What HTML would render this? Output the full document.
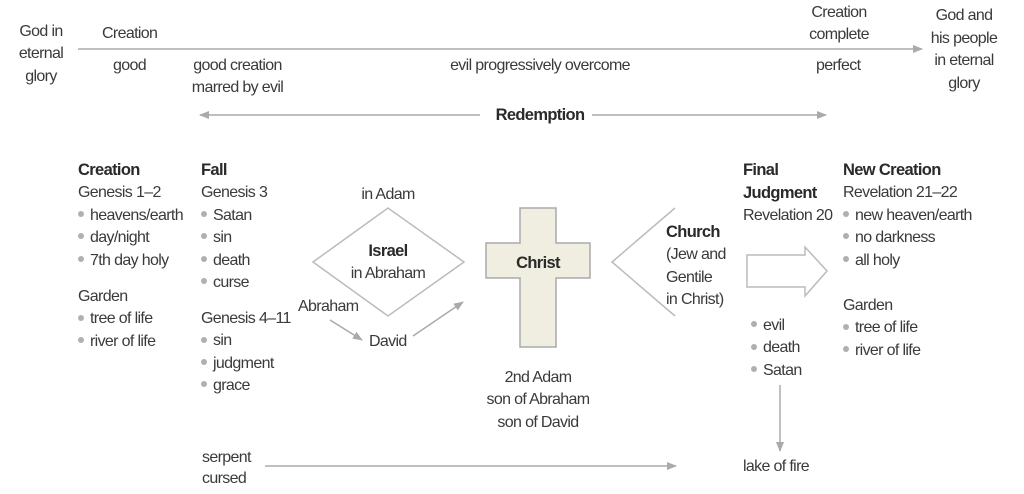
<!DOCTYPE html>
<html><head><meta charset="utf-8"><style>
body{margin:0;width:1024px;height:494px;background:#fff;position:relative;overflow:hidden;font-family:"Liberation Sans",sans-serif;font-size:16px;color:#3a3a3a;letter-spacing:-0.65px}
.t{position:absolute;white-space:nowrap;line-height:22.4px}
.c{text-align:center}
b{color:#2a2a2a;font-size:16.5px}
.d{display:inline-block;width:6px;height:6px;border-radius:50%;background:#b0b0b0;margin:0 6px 3px 0;vertical-align:middle}
svg{position:absolute;left:0;top:0}
</style></head><body>
<svg width="1024" height="494">
<defs><marker id="a" viewBox="0 0 10 10" refX="9" refY="5" markerWidth="10" markerHeight="10" markerUnits="userSpaceOnUse" orient="auto-start-reverse"><path d="M0,1L10,5L0,9z" fill="#aaa"/></marker></defs>
<g stroke="#aaa" stroke-width="1.5" fill="none">
<line x1="78" y1="49" x2="922" y2="49" marker-end="url(#a)"/>
<line x1="200" y1="115" x2="480" y2="115" marker-start="url(#a)"/>
<line x1="592" y1="115" x2="826" y2="115" marker-end="url(#a)"/>
<polygon points="313,262 388,208 464,262 388,316" stroke="#bbb"/>
<polyline points="675,208 612,262 675,316" stroke="#bbb"/>
<line x1="330" y1="320" x2="362" y2="340" marker-end="url(#a)"/>
<line x1="413" y1="336" x2="463" y2="302" marker-end="url(#a)"/>
<polygon points="747,255 805,255 805,247 827,271 805,296 805,287 747,287" stroke="#bbb"/>
<line x1="780" y1="385" x2="780" y2="451" marker-end="url(#a)"/>
<line x1="265" y1="466" x2="676" y2="466" marker-end="url(#a)"/>
</g>
<path d="M520,208H556V243H590V278H556V347H520V278H486V243H520Z" fill="#efeee0" stroke="#aaa" stroke-width="1.5"/>
</svg>
<div class="t c" style="left:10px;top:21px;width:62px">God in<br>eternal<br>glory</div>
<div class="t" style="left:102px;top:23px">Creation</div>
<div class="t" style="left:113px;top:55px">good</div>
<div class="t c" style="left:180px;top:55px;width:115px">good creation<br>marred by evil</div>
<div class="t c" style="left:440px;top:55px;width:200px">evil progressively overcome</div>
<div class="t" style="left:816px;top:55px">perfect</div>
<div class="t c" style="left:800px;top:2px;width:78px">Creation<br>complete</div>
<div class="t c" style="left:926px;top:5px;width:76px;line-height:22.5px">God and<br>his people<br>in eternal<br>glory</div>
<div class="t c" style="left:440px;top:104px;width:200px"><b>Redemption</b></div>

<div class="t" style="left:78px;top:159px"><b>Creation</b><br>Genesis 1–2<br><span class="d"></span>heavens/earth<br><span class="d"></span>day/night<br><span class="d"></span>7th day holy</div>
<div class="t" style="left:78px;top:286px">Garden<br><span class="d"></span>tree of life<br><span class="d"></span>river of life</div>
<div class="t" style="left:201px;top:159px"><b>Fall</b><br>Genesis 3<br><span class="d"></span>Satan<br><span class="d"></span>sin<br><span class="d"></span>death<br><span class="d"></span>curse</div>
<div class="t" style="left:201px;top:308px">Genesis 4–11<br><span class="d"></span>sin<br><span class="d"></span>judgment<br><span class="d"></span>grace</div>

<div class="t c" style="left:340px;top:184px;width:96px">in Adam</div>
<div class="t c" style="left:340px;top:240px;width:96px"><b>Israel</b><br>in Abraham</div>
<div class="t" style="left:298px;top:296px">Abraham</div>
<div class="t" style="left:369px;top:331px">David</div>
<div class="t c" style="left:488px;top:252px;width:100px"><b>Christ</b></div>
<div class="t c" style="left:478px;top:367px;width:120px">2nd Adam<br>son of Abraham<br>son of David</div>
<div class="t" style="left:666px;top:221px"><b>Church</b><br>(Jew and<br>Gentile<br>in Christ)</div>

<div class="t" style="left:743px;top:159px;line-height:22px"><b>Final<br>Judgment</b><br>Revelation 20</div>
<div class="t" style="left:751px;top:315px"><span class="d"></span>evil<br><span class="d"></span>death<br><span class="d"></span>Satan</div>
<div class="t" style="left:743px;top:456px">lake of fire</div>
<div class="t" style="left:843px;top:159px"><b>New Creation</b><br>Revelation 21–22<br><span class="d"></span>new heaven/earth<br><span class="d"></span>no darkness<br><span class="d"></span>all holy</div>
<div class="t" style="left:843px;top:295px">Garden<br><span class="d"></span>tree of life<br><span class="d"></span>river of life</div>
<div class="t" style="left:202px;top:447px;line-height:21px">serpent<br>cursed</div>
</body></html>
